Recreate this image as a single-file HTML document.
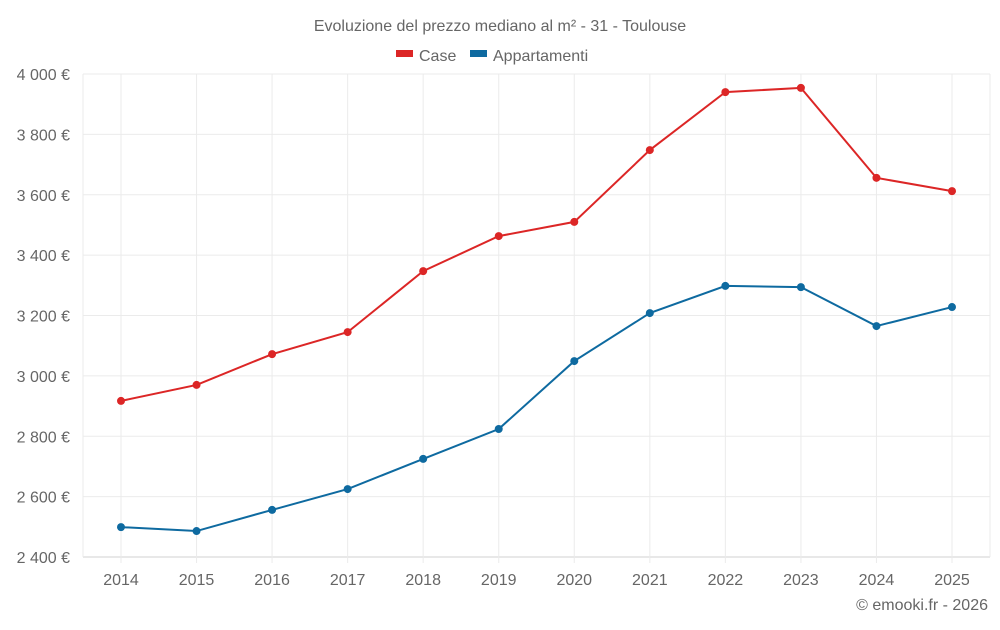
<!DOCTYPE html>
<html><head><meta charset="utf-8"><style>
body{margin:0;background:#fff;font-family:"Liberation Sans",sans-serif;}
svg text{font-family:"Liberation Sans",sans-serif;fill:#666;}
</style></head><body>
<svg id="chart" width="1000" height="625">
<text x="500" y="31" text-anchor="middle" font-size="16">Evoluzione del prezzo mediano al m² - 31 - Toulouse</text>
<g>
<g><rect x="396" y="50" width="17" height="7" fill="#dc2626"/><text x="419" y="61" font-size="16">Case</text></g>
<g><rect x="470" y="50" width="17" height="7" fill="#0e6aa0"/><text x="493" y="61" font-size="16">Appartamenti</text></g>
</g>
<g id="grid"></g><g id="axes"></g><g id="series"></g>
<text x="988" y="610" text-anchor="end" font-size="16">© emooki.fr - 2026</text>
</svg>
<script>
const years=["2014","2015","2016","2017","2018","2019","2020","2021","2022","2023","2024","2025"];
const caseValues=[2917,2970,3072,3145,3347,3463,3510,3748,3940,3954,3656,3612];
const apptValues=[2499,2486,2556,2625,2725,2824,3049,3208,3298,3294,3165,3228];
const yTicks=[2400,2600,2800,3000,3200,3400,3600,3800,4000];
const L=83,R=990,T=74,B=557,yMin=2400,yMax=4000;
const NS="http://www.w3.org/2000/svg";
const xs=i=>121+i*(952-121)/(years.length-1);
const ys=v=>B-(v-yMin)/(yMax-yMin)*(B-T);
function mk(tag,attrs,parent){const e=document.createElementNS(NS,tag);for(const k in attrs)e.setAttribute(k,attrs[k]);parent.appendChild(e);return e;}
const grid=document.getElementById('grid'),axes=document.getElementById('axes'),series=document.getElementById('series');
const fmt=v=>String(v).replace(/\B(?=(\d{3})+$)/," ")+" €";
yTicks.forEach(v=>{
 const l=mk('line',{x1:L,x2:R,y1:ys(v),y2:ys(v),stroke:v===yMin?'#d0d0d0':'#ebebeb'},grid);
 
 
 const t=mk('text',{x:70,y:ys(v)+6,'text-anchor':'end','font-size':16},axes);t.textContent=fmt(v);
 
 
});
years.forEach((y,i)=>{
 const x=xs(i);
 const l=mk('line',{x1:x,x2:x,y1:T,y2:B+6,stroke:'#ebebeb'},grid);
 
 
 const t=mk('text',{x:x,y:585,'text-anchor':'middle','font-size':16},axes);t.textContent=y;
 
 
});
const lf=mk('line',{x1:L,x2:L,y1:T,y2:B,stroke:'#ebebeb'},grid);


const rf=mk('line',{x1:R,x2:R,y1:T,y2:B,stroke:'#ebebeb'},grid);


function drawSeries(vals,color,name){
 const p=mk('polyline',{points:vals.map((v,i)=>xs(i)+','+ys(v)).join(' '),fill:'none',stroke:color,'stroke-width':2},series);
 
 
 vals.forEach((v,i)=>{
  const c=mk('circle',{cx:xs(i),cy:ys(v),r:4,fill:color},series);
  
  
 });
}
drawSeries(caseValues,'#dc2626','case');
drawSeries(apptValues,'#0e6aa0','appartamenti');
</script>
</body></html>
